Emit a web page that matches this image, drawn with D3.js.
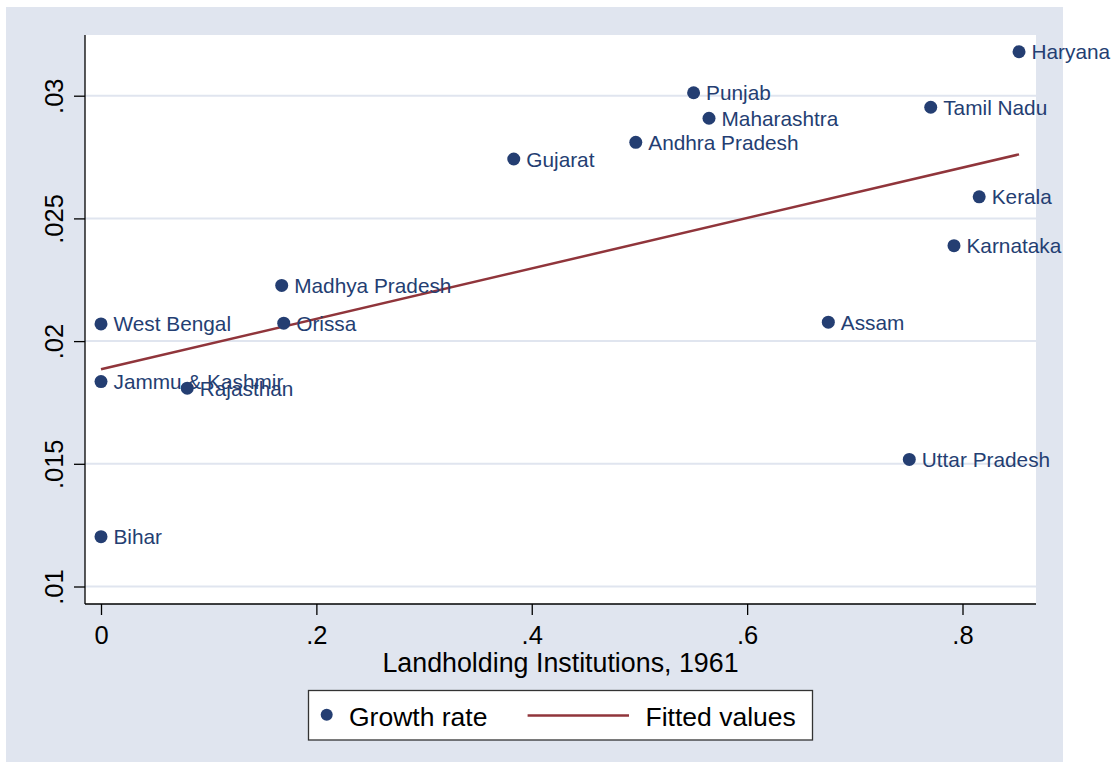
<!DOCTYPE html>
<html>
<head>
<meta charset="utf-8">
<script src="https://cdn.jsdelivr.net/npm/d3@7"></script>
<style>
  html, body { margin: 0; padding: 0; background: #ffffff; }
  svg { display: block; font-family: "Liberation Sans", Arial, Helvetica, sans-serif; }
</style>
</head>
<body>
<svg id="chart" width="1118" height="769"></svg>
<script>
// ---- Data ----
const states = ["Haryana", "Punjab", "Maharashtra", "Andhra Pradesh", "Gujarat", "Tamil Nadu",
  "Kerala", "Karnataka", "Assam", "Uttar Pradesh", "West Bengal", "Madhya Pradesh",
  "Orissa", "Jammu & Kashmir", "Rajasthan", "Bihar"];
const landholding = [0.8525, 0.5503, 0.5646, 0.4966, 0.3833, 0.7705,
  0.8155, 0.7921, 0.6754, 0.7506, 0.0, 0.1678,
  0.1697, 0.0, 0.0801, 0.0];
const growthRate = [0.03179, 0.03012, 0.02908, 0.02810, 0.02742, 0.02953,
  0.02588, 0.02389, 0.02077, 0.01518, 0.02070, 0.02227,
  0.02073, 0.01835, 0.01808, 0.01203];
const fittedX = [0.0, 0.8525];
const fittedY = [0.01885, 0.02761];
const xTicks = [0, 0.2, 0.4, 0.6, 0.8];
const xTickLabels = ["0", ".2", ".4", ".6", ".8"];
const yTicks = [0.01, 0.015, 0.02, 0.025, 0.03];
const yTickLabels = [".01", ".015", ".02", ".025", ".03"];
const xTitle = "Landholding Institutions, 1961";
const legendLabels = ["Growth rate", "Fitted values"];

// ---- Style ----
const bgColor = "#e0e5ef";
const navy = "#243e72";
const maroon = "#90353b";

const svg = d3.select("#chart");

// Plot region geometry
const plotL = 85, plotR = 1036, plotT = 35, plotB = 604;

const x = d3.scaleLinear().domain([0, 0.8]).range([101, 962.5]);
const y = d3.scaleLinear().domain([0.01, 0.03]).range([586.5, 95.7]);

// Outer graph region
svg.append("rect").attr("x", 6).attr("y", 7).attr("width", 1063 - 6).attr("height", 762 - 7)
  .attr("fill", bgColor);

// Plot region
svg.append("rect").attr("x", plotL).attr("y", plotT).attr("width", plotR - plotL).attr("height", plotB - plotT)
  .attr("fill", "#ffffff");

// Gridlines
svg.append("g").selectAll("line").data(yTicks).join("line")
  .attr("x1", plotL).attr("x2", plotR)
  .attr("y1", d => y(d)).attr("y2", d => y(d))
  .attr("stroke", bgColor).attr("stroke-width", 2);

// Y axis
const yAxis = svg.append("g").attr("transform", `translate(${plotL},0)`)
  .call(d3.axisLeft(y).tickValues(yTicks).tickSize(11).tickSizeOuter(0)
    .tickFormat((d, i) => yTickLabels[i]));
yAxis.select(".domain").attr("d", `M0,${plotT}V${plotB}`).attr("stroke", "#000").attr("stroke-width", 1.3);
yAxis.selectAll(".tick line").attr("stroke", "#000").attr("stroke-width", 1.3);
yAxis.selectAll(".tick text")
  .attr("x", null).attr("dy", null)
  .attr("transform", "translate(-22.5,0) rotate(-90)")
  .attr("text-anchor", "middle")
  .attr("font-size", 25.5).attr("fill", "#000");

// X axis
const xAxis = svg.append("g").attr("transform", `translate(0,${plotB})`)
  .call(d3.axisBottom(x).tickValues(xTicks).tickSize(11).tickSizeOuter(0)
    .tickFormat((d, i) => xTickLabels[i]));
xAxis.select(".domain").attr("d", `M${plotL},0H${plotR}`).attr("stroke", "#000").attr("stroke-width", 1.3);
xAxis.selectAll(".tick line").attr("stroke", "#000").attr("stroke-width", 1.3);
xAxis.selectAll(".tick text")
  .attr("y", 40).attr("dy", null)
  .attr("font-size", 25.5).attr("fill", "#000");
svg.selectAll("g").attr("font-family", null);

// X axis title
svg.append("text").attr("x", (plotL + plotR) / 2).attr("y", 672)
  .attr("text-anchor", "middle").attr("font-size", 26.8).attr("fill", "#000")
  .text(xTitle);

// Fitted line
const line = d3.line().x(d => x(d[0])).y(d => y(d[1]));
svg.append("path").datum(fittedX.map((v, i) => [v, fittedY[i]]))
  .attr("d", line).attr("fill", "none").attr("stroke", maroon).attr("stroke-width", 2.5);

// Points
const pts = states.map((s, i) => ({ name: s, x: landholding[i], y: growthRate[i] }));
svg.append("g").selectAll("circle").data(pts).join("circle")
  .attr("cx", d => x(d.x)).attr("cy", d => y(d.y)).attr("r", 6.5)
  .attr("fill", navy);

// Labels
svg.append("g").selectAll("text").data(pts).join("text")
  .attr("x", d => x(d.x) + 12.5).attr("y", d => y(d.y)).attr("dy", "0.36em")
  .attr("font-size", 20.8).attr("fill", navy)
  .text(d => d.name);

// Legend
const lg = svg.append("g");
lg.append("rect").attr("x", 308.5).attr("y", 690.5).attr("width", 812.5 - 308.5).attr("height", 740 - 690.5)
  .attr("fill", "#ffffff").attr("stroke", "#333").attr("stroke-width", 1.3);
lg.append("circle").attr("cx", 326.7).attr("cy", 714.8).attr("r", 6).attr("fill", navy);
lg.append("text").attr("x", 349).attr("y", 725.7).attr("font-size", 26.5).attr("fill", "#000").text(legendLabels[0]);
lg.append("line").attr("x1", 527.6).attr("x2", 629).attr("y1", 715.5).attr("y2", 715.5)
  .attr("stroke", maroon).attr("stroke-width", 2.5);
lg.append("text").attr("x", 645.5).attr("y", 725.7).attr("font-size", 26.5).attr("fill", "#000").text(legendLabels[1]);
</script>
</body>
</html>
